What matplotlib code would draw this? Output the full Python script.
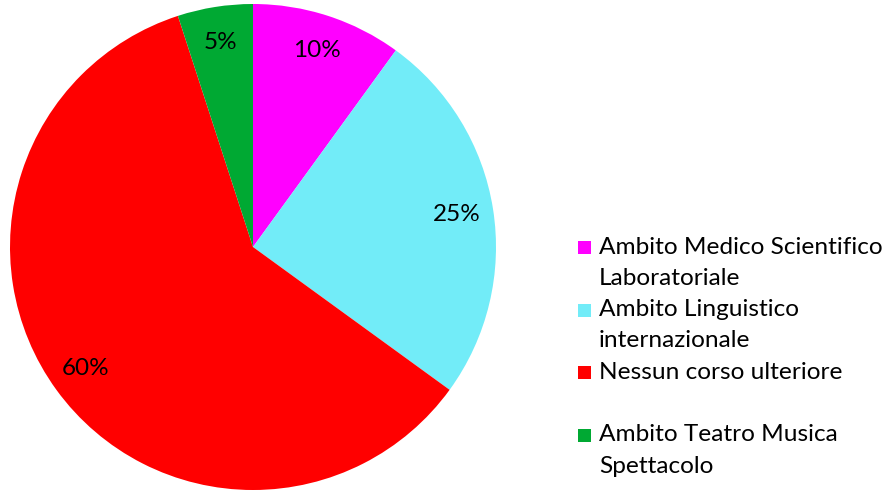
import matplotlib.pyplot as plt
from matplotlib.patches import Rectangle

# dati
labels = ["Ambito Medico Scientifico\nLaboratoriale",
          "Ambito Linguistico\ninternazionale",
          "Nessun corso ulteriore\n",
          "Ambito Teatro Musica\nSpettacolo"]
values = [10, 25, 60, 5]
colors = ["#FF00FF", "#72ECF8", "#FF0000", "#00A933"]

plt.rcParams['font.family'] = ['Lato', 'DejaVu Sans']

W, H = 890, 492
fig = plt.figure(figsize=(W / 100, H / 100), dpi=100)

# pie: centro (253, 247) px, raggio 243 px
cx, cy, r = 253, 247, 243
ax = fig.add_axes([(cx - r) / W, (H - cy - r) / H, 2 * r / W, 2 * r / H])
ax.pie(values, colors=colors, startangle=90, counterclock=False,
       autopct='%1.0f%%', pctdistance=0.85,
       textprops={'fontsize': 17.5, 'color': 'black'})
ax.set_xlim(-1, 1)
ax.set_ylim(-1, 1)
ax.set_aspect('equal')
ax.axis('off')

# legenda disegnata a mano, una riga alla volta
y0, step = 247, 31.3
line = 0
for lab, col in zip(labels, colors):
    parts = lab.split("\n")
    yy = y0 + line * step
    fig.add_artist(Rectangle(((578) / W, (H - yy - 7) / H), 13 / W, 13 / H,
                             transform=fig.transFigure, facecolor=col,
                             edgecolor='none'))
    for k, p in enumerate(parts):
        fig.text(599 / W, (H - (y0 + (line + k) * step)) / H, p,
                 fontsize=17.6, va='center', ha='left', color='black')
    line += len(parts)

fig.savefig("out.png", dpi=100)
